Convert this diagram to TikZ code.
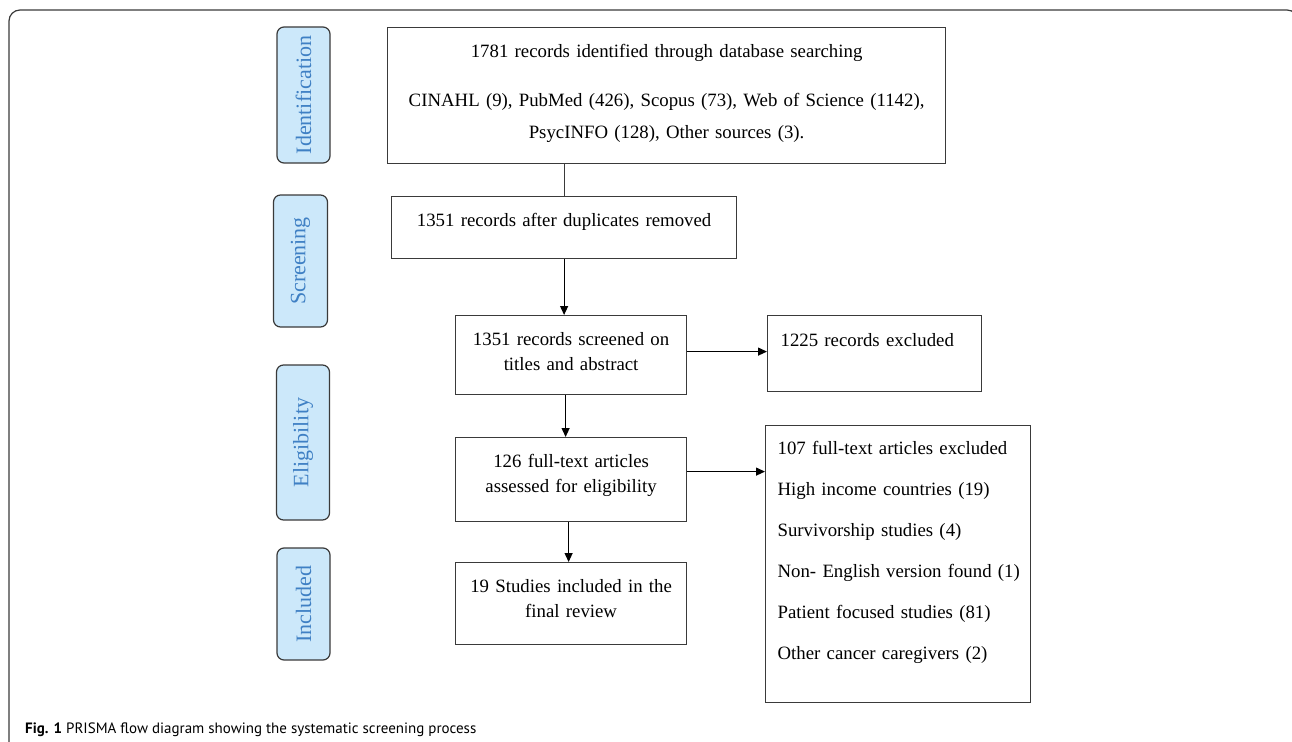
\documentclass[tikz,border=0pt]{standalone}
\usepackage{fontspec}
\setmainfont{Liberation Serif}
\newfontfamily\capfont{PT Sans}
\usetikzlibrary{arrows.meta}
\definecolor{stagefill}{HTML}{CCE8FA}
\definecolor{stagetext}{HTML}{3F80C4}
\definecolor{boxline}{HTML}{3A3A3A}

\begin{document}
\begin{tikzpicture}[x=1pt,y=-1pt,
    stage/.style={draw=boxline,line width=1.2pt,fill=stagefill,rounded corners=7pt,rotate=90,
      minimum height=53pt,inner sep=0pt,text=stagetext,font=\fontsize{22}{26}\selectfont},
    box/.style={draw=boxline,line width=1.2pt,anchor=north west,inner sep=0pt,align=center,
      text height=30pt,font=\fontsize{18.8}{24.5}\selectfont},
    lbox/.style={box,align=left,inner xsep=12pt},
    arr/.style={-{Triangle[length=9pt,width=8pt]},line width=1.2pt}]
  \useasboundingbox (0,0) rectangle (1292,741);
  \draw[boxline,line width=1.2pt,rounded corners=11pt] (9,760) -- (9,10) -- (1298,10) -- (1298,760);

  % stages
  \node[stage,minimum width=136pt] (s1) at (303.5,95) {Identification};
  \node[stage,minimum width=132pt,minimum height=54pt] (s2) at (300.5,261) {Screening};
  \node[stage,minimum width=155pt] (s3) at (303,442.5) {Eligibility};
  \node[stage,minimum width=112pt] (s4) at (303.5,604) {Included};

  % flow boxes
  \node[box,text width=558pt,text depth=106pt,font=\fontsize{18.8}{32}\selectfont] (1) at (387,27)
    {1781 records identified through database searching\\[17pt]
     CINAHL (9), PubMed (426), Scopus (73), Web of Science (1142),\\
     PsycINFO (128), Other sources (3).};
  \node[box,text width=345pt,text depth=32pt] (2) at (391,196) {1351 records after duplicates removed};
  \node[box,text width=231pt,text depth=49pt] (3) at (455,315) {1351 records screened on\\titles and abstract};
  \node[box,text width=231pt,text depth=54pt] (4) at (455,437) {126 full-text articles\\assessed for eligibility};
  \node[box,text width=231pt,text depth=52pt] (5) at (455,562) {19 Studies included in the\\final review};
  \node[lbox,inner xsep=13pt,text width=188pt,text height=31pt,text depth=45pt] (6) at (767,315) {1225 records excluded};
  \node[lbox,text width=241pt,text height=29pt,text depth=248pt,font=\fontsize{18.8}{41}\selectfont] (7) at (765,425)
    {107 full-text articles excluded\\
     High income countries (19)\\
     Survivorship studies (4)\\
     \mbox{Non- English version found (1)}\\
     Patient focused studies (81)\\
     Other cancer caregivers (2)};

  \draw[boxline,line width=1.2pt] (2.north |- 1.south) -- (2.north);
  \draw[arr] (2.south) -- (2.south |- 3.north);
  \draw[arr] ([xshift=-5.5pt]3.south) -- ([xshift=-5.5pt]3.south |- 4.north);
  \draw[arr] ([xshift=-2.5pt]4.south) -- ([xshift=-2.5pt]4.south |- 5.north);
  \draw[arr] ([yshift=3.5pt]3.east) -- ([yshift=3.5pt]3.east -| 6.west);
  \draw[arr] ([yshift=8pt]4.east) -- ([yshift=8pt]4.east -| 7.west);

  % caption
  \node[anchor=base west,inner sep=0pt,font=\capfont\fontsize{15}{18}\selectfont] (cap) at (25,733)
    {\textbf{Fig. 1} PRISMA flow diagram showing the systematic screening process};
\end{tikzpicture}
\end{document}
